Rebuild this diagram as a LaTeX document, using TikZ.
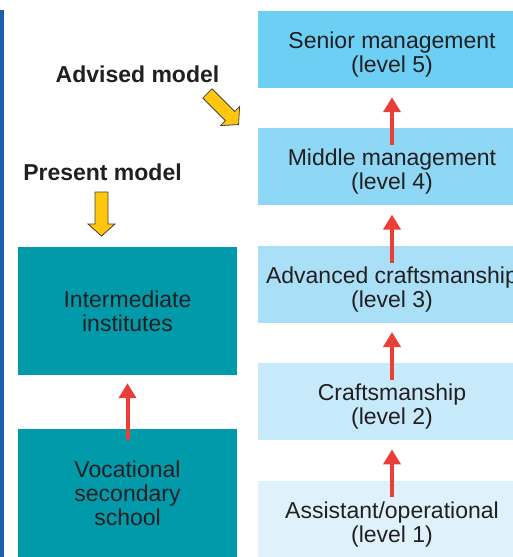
\documentclass[tikz,border=0pt]{standalone}
\usepackage{fontspec}
\setmainfont{Liberation Sans}
\usetikzlibrary{positioning, arrows.meta}

\definecolor{lvlfive}{HTML}{6CCFF3}
\definecolor{lvlfour}{HTML}{8ED8F6}
\definecolor{lvlthree}{HTML}{A9E0F8}
\definecolor{lvltwo}{HTML}{C7EAFA}
\definecolor{lvlone}{HTML}{DFF2FC}
\definecolor{teal}{HTML}{009AAB}
\definecolor{risered}{HTML}{EA3F36}
\definecolor{fatyellow}{HTML}{FFC60B}
\definecolor{inkgray}{HTML}{231F20}
\definecolor{sidebar}{HTML}{1B5FAE}

\tikzset{
	rung/.style={rectangle, fill=#1, text=inkgray, minimum width=268pt, minimum height=77pt, inner sep=0pt, align=center, text height=48pt, text depth=2pt},
	school/.style={rectangle, fill=teal, text=inkgray, minimum width=219pt, minimum height=128pt, inner sep=0pt, align=center},
	rise/.style={draw=risered, line width=4pt, -{Triangle[length=15pt, width=17pt]}},
	tag/.style={font=\fontsize{23}{24}\selectfont\bfseries, text=inkgray, anchor=base},
	fatarrow/.pic={\draw[fill=fatyellow, draw=inkgray!85, line width=0.8pt] (-6.5,-22) -- (6.5,-22) -- (6.5,10) -- (13.5,10) -- (0,22) -- (-13.5,10) -- (-6.5,10) -- cycle;}
}

\begin{document}
\begin{tikzpicture}[x=1pt, y=-1pt, font=\fontsize{23}{24}\selectfont]
	\useasboundingbox (0,0) rectangle (513,557);
	\clip (0,0) rectangle (513,557);

	\draw[sidebar, line width=4pt] (2,10) -- (2,557);

	\node[rung=lvlfive] (l5) at (392,49.5) {Senior management\\(level 5)};
	\node[rung=lvlfour, below=40pt of l5] (l4) {Middle management\\(level 4)};
	\node[rung=lvlthree, below=40pt of l4] (l3) {Advanced craftsmanship\\(level 3)};
	\node[rung=lvltwo, below=40pt of l3] (l2) {Craftsmanship\\(level 2)};
	\node[rung=lvlone, below=40pt of l2] (l1) {Assistant/operational\\(level 1)};

	\node[school] (inst) at (127.5,311) {Intermediate\\institutes};
	\node[school, below=54pt of inst] (voc) {Vocational\\secondary\\school};

	\draw[rise] ([yshift=-17pt]l4.north) -- ([yshift=-9pt]l5.south);
	\draw[rise] ([yshift=-17pt]l3.north) -- ([yshift=-9pt]l4.south);
	\draw[rise] ([yshift=-17pt]l2.north) -- ([yshift=-9pt]l3.south);
	\draw[rise] ([yshift=-17pt]l1.north) -- ([yshift=-9pt]l2.south);
	\draw[rise] ([yshift=-11pt]voc.north) -- ([yshift=-8pt]inst.south);

	\node[tag] (advised) at (137.5,82.7) {Advised model};
	\node[tag] (present) at (102.5,180) {Present model};
	\pic[rotate=45] at (223,109) {fatarrow};
	\pic at (101.5,214) {fatarrow};
\end{tikzpicture}
\end{document}
